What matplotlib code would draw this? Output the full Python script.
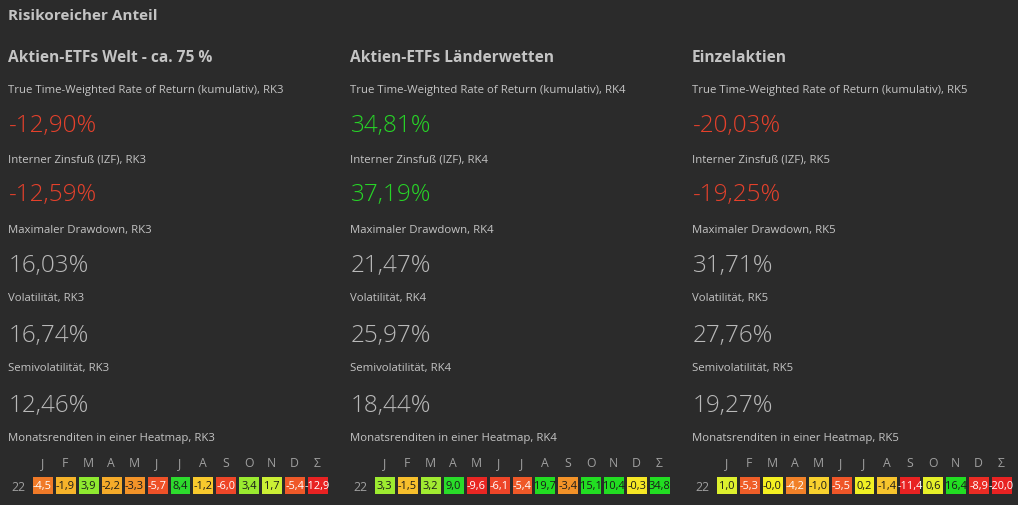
import matplotlib
matplotlib.use("Agg")
import matplotlib.pyplot as plt
import numpy as np
from matplotlib.colors import LinearSegmentedColormap, Normalize

# ---------------- data ----------------
section_title = "Risikoreicher Anteil"
panel_titles = ["Aktien-ETFs Welt - ca. 75 %", "Aktien-ETFs Länderwetten", "Einzelaktien"]
panel_codes = ["RK3", "RK4", "RK5"]

ttwror = [-12.90, 34.81, -20.03]
izf = [-12.59, 37.19, -19.25]
drawdown = [16.03, 21.47, 31.71]
volatility = [16.74, 25.97, 27.76]
semivolatility = [12.46, 18.44, 19.27]

months = ['J', 'F', 'M', 'A', 'M', 'J', 'J', 'A', 'S', 'O', 'N', 'D', 'Σ']
year_label = "22"
heat_welt = [-4.5, -1.9, 3.9, -2.2, -3.3, -5.7, 8.4, -1.2, -6.0, 3.4, 1.7, -5.4, -12.9]
heat_laender = [3.3, -1.5, 3.2, 9.0, -9.6, -6.1, -5.4, 19.7, -3.4, 15.1, 10.4, -0.3, 34.8]
heat_einzel = [1.0, -5.3, -0.0, -4.2, -1.0, -5.5, 0.2, -1.4, -11.4, 0.6, 16.4, -8.9, -20.0]
heatmaps = [heat_welt, heat_laender, heat_einzel]

# ---------------- style ----------------
BG = "#2b2b2b"
TXT = "#c4c4c4"
BIG = "#b9b9b9"
RED = "#e5412b"
GREEN = "#27d427"
plt.rcParams['font.family'] = ['Open Sans', 'DejaVu Sans']

W, H = 1018, 506
fig = plt.figure(figsize=(W / 100, H / 100), dpi=100, facecolor=BG)


def px(x, y):
    return x / W, 1 - y / H


def put(x, y, s, **kw):
    fx, fy = px(x, y)
    fig.text(fx, fy, s, va='center', ha='left', **kw)


def fmt_pct(v):
    return f"{v:.2f}".replace('.', ',') + "%"


put(8, 16, section_title, fontsize=11, fontweight='bold', color=TXT)

nodes = [(-10, "#e82222"), (-6, "#ee4628"), (-4.5, "#f07a28"), (-3.3, "#f39428"),
         (-2, "#f6b02a"), (-1, "#f8d02e"), (0, "#f5f022"), (1.5, "#d0f035"),
         (3.5, "#98ea30"), (8, "#30da30"), (10, "#22dd22")]
cmap = LinearSegmentedColormap.from_list(
    "rg", [((v + 10) / 20, c) for v, c in nodes])
norm = Normalize(vmin=-10, vmax=10, clip=True)

col_x = [8, 350, 692]
heat_left = [31, 373, 715]
SMALL = 8.2
BIGFS = 17.5
for i in range(3):
    x = col_x[i]
    code = panel_codes[i]
    put(x, 58, panel_titles[i], fontsize=11.2, fontweight='bold', color=TXT)

    put(x, 90, f"True Time-Weighted Rate of Return (kumulativ), {code}", fontsize=SMALL, color=TXT)
    put(x + 1, 126, fmt_pct(ttwror[i]), fontsize=BIGFS, fontweight='light',
        color=RED if ttwror[i] < 0 else GREEN)

    put(x, 160, f"Interner Zinsfuß (IZF), {code}", fontsize=SMALL, color=TXT)
    put(x + 1, 195, fmt_pct(izf[i]), fontsize=BIGFS, fontweight='light',
        color=RED if izf[i] < 0 else GREEN)

    put(x, 230, f"Maximaler Drawdown, {code}", fontsize=SMALL, color=TXT)
    put(x + 1, 266, fmt_pct(drawdown[i]), fontsize=BIGFS, fontweight='light', color=BIG)

    put(x, 299, f"Volatilität, {code}", fontsize=SMALL, color=TXT)
    put(x + 1, 336, fmt_pct(volatility[i]), fontsize=BIGFS, fontweight='light', color=BIG)

    put(x, 369, f"Semivolatilität, {code}", fontsize=SMALL, color=TXT)
    put(x + 1, 406, fmt_pct(semivolatility[i]), fontsize=BIGFS, fontweight='light', color=BIG)

    put(x, 439, f"Monatsrenditen in einer Heatmap, {code}", fontsize=SMALL, color=TXT)

    # heatmap
    left, top, w, h = heat_left[i], 476, 298, 20
    ax = fig.add_axes([left / W, 1 - (top + h) / H, w / W, h / H])
    ax.set_facecolor(BG)
    vals = np.array(heatmaps[i], dtype=float).reshape(1, -1)
    ax.pcolormesh(np.arange(14), [0, 1], vals, cmap=cmap, norm=norm,
                  edgecolors=BG, linewidth=0.8)
    ax.set_xlim(0, 13)
    ax.set_ylim(1, 0)
    for j, v in enumerate(heatmaps[i]):
        s = f"{v:.1f}".replace('.', ',')
        ax.text(j + 0.5, 0.52, s, ha='center', va='center', fontsize=7.9,
                color='white' if v < -4 else '#1a1a1a', clip_on=True)
    ax.xaxis.tick_top()
    ax.set_xticks(np.arange(13) + 0.5)
    ax.set_xticklabels(months, color="#a0a0a0", fontsize=8.8)
    ax.set_yticks([0.5])
    ax.set_yticklabels([year_label], color="#a0a0a0", fontsize=8.8)
    ax.tick_params(length=0, pad=4)
    for sp in ax.spines.values():
        sp.set_visible(False)

fig.savefig("out.png", dpi=100, facecolor=BG)
